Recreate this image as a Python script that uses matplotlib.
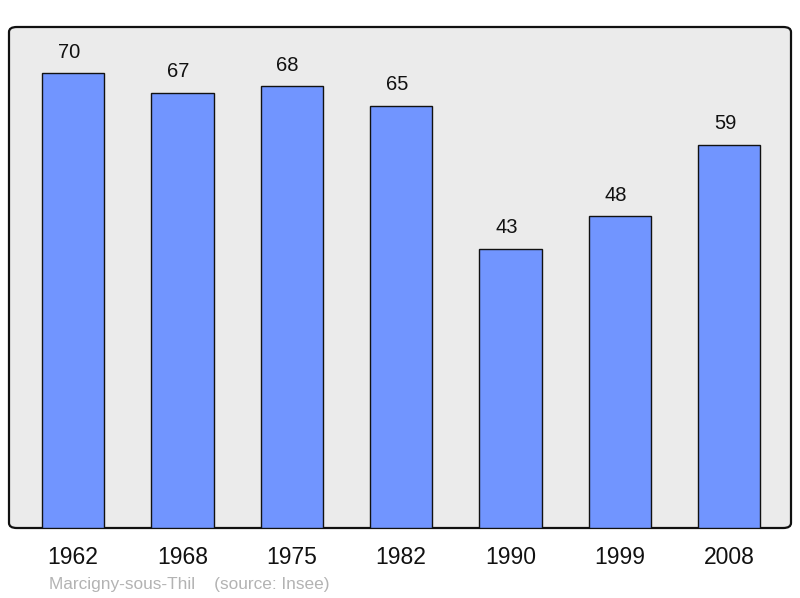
import matplotlib.pyplot as plt
from matplotlib.patches import FancyBboxPatch

# data
years = ["1962", "1968", "1975", "1982", "1990", "1999", "2008"]
population = [70, 67, 68, 65, 43, 48, 59]

plt.rcParams["font.family"] = ["Liberation Sans", "DejaVu Sans"]

fig = plt.figure(figsize=(8, 5.98), dpi=100)
ax = fig.add_axes([9 / 800, 70 / 598, 782 / 800, 501 / 598])
ax.set_facecolor("none")

# rounded frame behind the bars
frame = FancyBboxPatch((0, 0), 1, 1,
                       boxstyle="round,pad=0,rounding_size=0.01",
                       transform=ax.transAxes, facecolor="#ebebeb",
                       edgecolor="#111111", linewidth=1.6, zorder=0,
                       clip_on=False)
ax.add_patch(frame)

x = list(range(len(years)))
bars = ax.bar(x, population, width=0.57, color="#7195ff",
              edgecolor="#111111", linewidth=1.0, zorder=2)

for xi, v in zip(x, population):
    ax.annotate(str(v), (xi, v), xytext=(-4, 21), textcoords="offset pixels",
                ha="center", va="center", fontsize=14.5, color="#111111")

ax.set_xlim(-0.585, 6.565)
ax.set_ylim(0, 77.1)
for s in ax.spines.values():
    s.set_visible(False)
ax.set_yticks([])
ax.set_xticks(x)
ax.set_xticklabels(years, fontsize=16.5, color="#111111")
ax.tick_params(axis="x", length=0, pad=13)

fig.text(49 / 800, 1 - 584 / 598, "Marcigny-sous-Thil    (source: Insee)",
         fontsize=12.4, color="#b3b3b3", ha="left", va="center")

fig.savefig("out.png", dpi=100)
